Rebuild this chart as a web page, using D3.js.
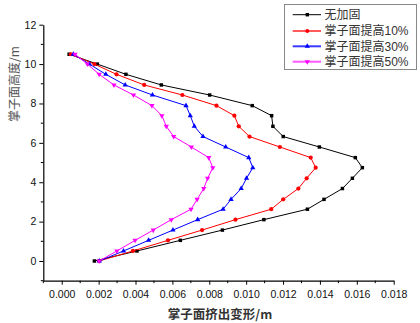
<!DOCTYPE html>
<html><head><meta charset="utf-8">
<script src="https://cdn.jsdelivr.net/npm/d3@7"></script>
<style>body{margin:0;background:#fff}</style>
</head><body>
<svg id="c" width="420" height="323"></svg>
<script>
const heights = [10.5,10.0,9.48,8.94,8.43,7.89,7.38,6.84,6.32,5.79,5.25,4.74,4.2,3.68,3.13,2.63,2.10,1.57,1.05,0.51,0];
const seriesNames = ["无加固","掌子面提高10%","掌子面提高30%","掌子面提高50%"];
const noReinf = [0.00040,0.00193,0.00348,0.00540,0.00802,0.01033,0.01138,0.01145,0.01201,0.01397,0.01592,0.01630,0.01576,0.01522,0.01422,0.01332,0.01096,0.00871,0.00643,0.00408,0.00177];
const face10 = [0.00049,0.00177,0.00297,0.00447,0.00654,0.00839,0.00936,0.00960,0.01018,0.01183,0.01350,0.01377,0.01328,0.01283,0.01201,0.01136,0.00942,0.00761,0.00576,0.00386,0.00203];
const face30 = [0.00063,0.00150,0.00239,0.00344,0.00492,0.00674,0.00697,0.00719,0.00766,0.00889,0.01014,0.01036,0.01002,0.00973,0.00918,0.00875,0.00737,0.00603,0.00471,0.00335,0.00204];
const face50 = [0.00072,0.00139,0.00203,0.00283,0.00389,0.00489,0.00543,0.00567,0.00607,0.00703,0.00797,0.00819,0.00791,0.00770,0.00734,0.00701,0.00594,0.00496,0.00398,0.00299,0.00203];
const xTicks = [0,0.002,0.004,0.006,0.008,0.010,0.012,0.014,0.016,0.018];
const yTicks = [0,2,4,6,8,10,12];

const colors = ["#000000","#ff0000","#0000ff","#ff00ff"];
const legendColors = ["#000000","#ff5a5a","#3a3aff","#ff5aff"];
const symbols = [d3.symbolSquare, d3.symbolCircle, d3.symbolTriangle, d3.symbolTriangle];
const allSeries = [noReinf, face10, face30, face50];

const svg = d3.select("#c");
const x = d3.scaleLinear().domain([-0.001,0.018]).range([43.3,393.7]);
const y = d3.scaleLinear().domain([-1,12]).range([280.7,24.7]);

const font = "'Liberation Sans', Arial, sans-serif";
const mixFont = "'Liberation Sans', 'Noto Sans CJK SC', sans-serif";

// axes
const xAxis = d3.axisBottom(x).tickValues(xTicks).tickFormat(d3.format(".3f")).tickSize(4).tickSizeOuter(0);
const gx = svg.append("g").attr("transform","translate(0,280.7)").call(xAxis);
gx.selectAll("text").attr("font-family",font).attr("font-size","10.5px").attr("fill","#111").attr("dy","0.95em");
const xMinor = d3.range(-0.001,0.0185,0.002);
gx.selectAll(".mx").data(xMinor).enter().append("line").attr("class","mx")
  .attr("x1",d=>x(d)).attr("x2",d=>x(d)).attr("y1",0).attr("y2",2.5).attr("stroke","#000");

const yAxis = d3.axisLeft(y).tickValues(yTicks).tickSize(4).tickSizeOuter(0);
const gy = svg.append("g").attr("transform","translate(43.3,0)").call(yAxis);
gy.selectAll("text").attr("font-family",font).attr("font-size","10.5px").attr("fill","#111");
const yMinor = [-1,1,3,5,7,9,11];
gy.selectAll(".my").data(yMinor).enter().append("line").attr("class","my")
  .attr("x1",0).attr("x2",-2.5).attr("y1",d=>y(d)).attr("y2",d=>y(d)).attr("stroke","#000");
svg.selectAll(".domain").attr("stroke","#000").attr("stroke-width",1.2);

// axis titles
svg.append("text").attr("x",220).attr("y",319).attr("text-anchor","middle")
  .attr("font-family","'Noto Sans CJK SC', sans-serif").attr("font-size","12.5px").attr("font-weight","bold").attr("fill","#333")
  .text("掌子面挤出变形/m");
svg.append("text").attr("transform","translate(19,84) rotate(-90)").attr("text-anchor","middle")
  .attr("font-family","'Noto Sans CJK SC', sans-serif").attr("font-size","12px").attr("fill","#555")
  .text("掌子面高度/m");

// series
const line = d3.line().x(d=>x(d[0])).y(d=>y(d[1]));
allSeries.forEach((vals,i)=>{
  const pts = vals.map((v,j)=>[v,heights[j]]);
  svg.append("path").datum(pts).attr("d",line).attr("fill","none").attr("stroke",colors[i]).attr("stroke-width",1);
  svg.selectAll(".p"+i).data(pts).enter().append("path").attr("class","p"+i)
    .attr("d",d3.symbol().type(symbols[i]).size(i===1?14:12))
    .attr("transform",d=>`translate(${x(d[0])},${y(d[1])})${i===3?" rotate(180)":""}`)
    .attr("fill",colors[i]);
});

// legend
const lg = svg.append("g");
lg.append("rect").attr("x",284.5).attr("y",4.5).attr("width",132).attr("height",65)
  .attr("fill","#fff").attr("stroke","#888").attr("stroke-width",1);
const ly = [14.7,31,46.3,61.7];
seriesNames.forEach((n,i)=>{
  lg.append("line").attr("x1",292.7).attr("x2",321).attr("y1",ly[i]).attr("y2",ly[i])
    .attr("stroke",legendColors[i]).attr("stroke-width",i===0?1:2);
  lg.append("path").attr("d",d3.symbol().type(symbols[i]).size(12))
    .attr("transform",`translate(307.3,${ly[i]})${i===3?" rotate(180)":""}`).attr("fill",colors[i]);
  lg.append("text").attr("x",324.5).attr("y",ly[i]).attr("dy","0.36em")
    .attr("font-family",mixFont).attr("font-size","12px").attr("fill","#333")
    .text(n);
});
</script>
</body></html>
